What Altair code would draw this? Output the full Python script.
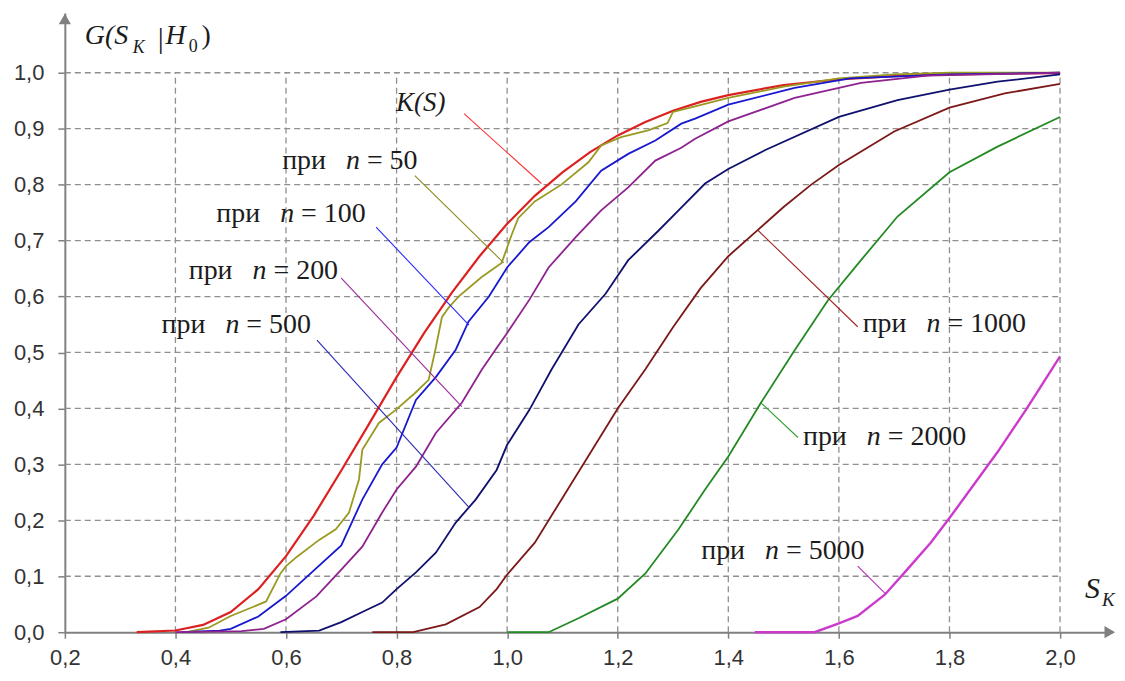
import altair as alt
import pandas as pd

# ---------------- data ----------------
ks_x = [0.33, 0.40, 0.45, 0.50, 0.55, 0.60, 0.65, 0.70, 0.75, 0.80, 0.85, 0.90, 0.95, 1.00,
        1.05, 1.10, 1.15, 1.20, 1.25, 1.30, 1.35, 1.40, 1.50, 1.60, 1.70, 1.80, 1.90, 2.00]
ks_y = [0.0, 0.003, 0.013, 0.036, 0.077, 0.136, 0.208, 0.289, 0.372, 0.456, 0.535, 0.607, 0.672, 0.730,
        0.780, 0.822, 0.858, 0.888, 0.912, 0.932, 0.948, 0.960, 0.978, 0.988, 0.994, 0.997, 0.9985, 0.9993]

n50_x = [0.42, 0.46, 0.50, 0.54, 0.564, 0.59, 0.60, 0.62, 0.66, 0.69, 0.714, 0.732, 0.738, 0.768,
         0.798, 0.834, 0.858, 0.870, 0.882, 0.894, 0.912, 0.954, 0.99, 1.008, 1.02, 1.05, 1.098,
         1.147, 1.17, 1.206, 1.255, 1.29, 1.30, 1.34, 1.40, 1.50, 1.60, 1.70, 1.80, 2.00]
n50_y = [0.0, 0.008, 0.029, 0.045, 0.055, 0.105, 0.118, 0.135, 0.165, 0.184, 0.214, 0.273, 0.326, 0.374,
         0.397, 0.428, 0.451, 0.504, 0.563, 0.58, 0.60, 0.635, 0.66, 0.71, 0.74, 0.77, 0.80,
         0.84, 0.87, 0.885, 0.897, 0.91, 0.93, 0.94, 0.955, 0.975, 0.99, 0.997, 1.0, 1.0]

n100_x = [0.41, 0.48, 0.50, 0.55, 0.60, 0.65, 0.70, 0.738, 0.774, 0.80, 0.835, 0.871, 0.907, 0.93,
          0.967, 1.00, 1.04, 1.075, 1.124, 1.17, 1.219, 1.268, 1.315, 1.34, 1.40, 1.52, 1.62, 1.80, 2.00]
n100_y = [0.0, 0.003, 0.006, 0.028, 0.065, 0.11, 0.155, 0.237, 0.30, 0.33, 0.415, 0.456, 0.505, 0.555,
          0.60, 0.652, 0.697, 0.724, 0.77, 0.825, 0.855, 0.879, 0.909, 0.918, 0.943, 0.973, 0.99, 0.997, 1.0]

n200_x = [0.40, 0.52, 0.56, 0.60, 0.655, 0.70, 0.738, 0.774, 0.80, 0.835, 0.871, 0.918, 0.954, 0.981,
          1.00, 1.04, 1.075, 1.124, 1.17, 1.219, 1.268, 1.315, 1.34, 1.40, 1.52, 1.64, 1.76, 2.00]
n200_y = [0.0, 0.002, 0.006, 0.023, 0.064, 0.112, 0.153, 0.214, 0.255, 0.296, 0.356, 0.41, 0.469, 0.508,
          0.535, 0.594, 0.652, 0.706, 0.754, 0.795, 0.843, 0.866, 0.882, 0.913, 0.955, 0.982, 0.995, 1.0]

n500_x = [0.59, 0.66, 0.70, 0.738, 0.774, 0.80, 0.835, 0.871, 0.907, 0.943, 0.981, 1.00, 1.04, 1.08,
          1.129, 1.178, 1.219, 1.274, 1.31, 1.358, 1.40, 1.467, 1.60, 1.706, 1.80, 1.887, 2.00]
n500_y = [0.0, 0.003, 0.018, 0.036, 0.053, 0.077, 0.107, 0.142, 0.196, 0.237, 0.29, 0.335, 0.397, 0.469,
          0.55, 0.605, 0.665, 0.718, 0.754, 0.802, 0.828, 0.862, 0.921, 0.951, 0.97, 0.984, 0.997]

n1000_x = [0.756, 0.83, 0.889, 0.95, 0.981, 1.00, 1.05, 1.10, 1.15, 1.20, 1.25, 1.30, 1.35, 1.40,
           1.45, 1.50, 1.55, 1.60, 1.65, 1.70, 1.80, 1.90, 2.00]
n1000_y = [0.0, 0.0, 0.014, 0.045, 0.077, 0.103, 0.16, 0.24, 0.32, 0.40, 0.47, 0.545, 0.615, 0.672,
           0.716, 0.76, 0.80, 0.835, 0.865, 0.895, 0.9375, 0.963, 0.98]

n2000_x = [1.00, 1.075, 1.129, 1.20, 1.25, 1.31, 1.358, 1.40, 1.459, 1.52, 1.58, 1.64, 1.706, 1.80,
           1.887, 2.00]
n2000_y = [0.0, 0.0, 0.025, 0.06, 0.105, 0.184, 0.255, 0.314, 0.41, 0.504, 0.593, 0.665, 0.743, 0.822,
           0.868, 0.921]

n5000_x = [1.448, 1.556, 1.60, 1.634, 1.683, 1.719, 1.766, 1.80, 1.887, 1.94, 2.00]
n5000_y = [0.0, 0.0, 0.016, 0.029, 0.067, 0.107, 0.16, 0.204, 0.322, 0.40, 0.493]

x_ticks = [0.2, 0.4, 0.6, 0.8, 1.0, 1.2, 1.4, 1.6, 1.8, 2.0]
y_ticks = [0.0, 0.1, 0.2, 0.3, 0.4, 0.5, 0.6, 0.7, 0.8, 0.9, 1.0]

n_labels = ["50", "100", "200", "500", "1000", "2000", "5000"]

# ---------------- styling / layout ----------------
X_DOM = [0.2, 2.094]
Y_DOM = [0.0, 1.107]
xs = alt.Scale(domain=X_DOM, nice=False, zero=False)
ys = alt.Scale(domain=Y_DOM, nice=False, zero=False)
SERIF = "Liberation Serif"
TXT = "#1c1c1c"
AX = "#808080"
GRID = "#8f8f8f"
LABEL_EXPR = "replace(format(datum.value, '.1f'), '.', ',')"

xaxis = alt.Axis(values=x_ticks, grid=False, title=None, domainColor=AX, domainWidth=2,
                 tickColor=AX, tickWidth=1.5, tickSize=6, labelPadding=9,
                 labelFont="Liberation Sans", labelFontSize=22, labelColor="#333333",
                 labelFlush=False, labelOverlap=False, labelExpr=LABEL_EXPR)
yaxis = alt.Axis(values=y_ticks, grid=False, title=None, domainColor=AX, domainWidth=2,
                 tickColor=AX, tickWidth=1.5, tickSize=7, labelPadding=14,
                 labelFont="Liberation Sans", labelFontSize=22, labelColor="#333333",
                 labelFlush=False, labelOverlap=False, labelExpr=LABEL_EXPR)


def X(field="x"):
    return alt.X(f"{field}:Q", scale=xs, axis=xaxis)


def Y(field="y"):
    return alt.Y(f"{field}:Q", scale=ys, axis=yaxis)


curves = [
    ("K", ks_x, ks_y, "#dd2020", 2.2),
    ("50", n50_x, n50_y, "#9a9a22", 1.8),
    ("100", n100_x, n100_y, "#1818d0", 1.8),
    ("200", n200_x, n200_y, "#8e228e", 1.8),
    ("500", n500_x, n500_y, "#10106e", 1.8),
    ("1000", n1000_x, n1000_y, "#7c1818", 1.8),
    ("2000", n2000_x, n2000_y, "#238a23", 1.8),
    ("5000", n5000_x, n5000_y, "#cc3acc", 2.4),
]

# grid (only inside [0.2,2.0] x [0,1.0])
grid_rows = [{"x": t, "y": 0.0, "x2": t, "y2": 1.0} for t in x_ticks[1:]] + \
            [{"x": 0.2, "y": t, "x2": 2.0, "y2": t} for t in y_ticks[1:]]
grid_df = pd.DataFrame(grid_rows)

layers = [alt.Chart(grid_df).mark_rule(color=GRID, strokeDash=[6, 4], strokeWidth=1.3).encode(
    x=X(), y=Y(), x2="x2:Q", y2="y2:Q")]

for name, cx, cy, col, w in curves:
    df = pd.DataFrame({"x": cx, "y": cy, "o": list(range(len(cx)))})
    layers.append(alt.Chart(df).mark_line(color=col, strokeWidth=w).encode(
        x=X(), y=Y(), order="o:Q"))

# leader lines
lead_df = pd.DataFrame({
    "x": [0.922, 0.833, 0.763, 0.700, 0.656, 1.454, 1.459, 1.634],
    "y": [0.927, 0.816, 0.724, 0.633, 0.522, 0.718, 0.410, 0.118],
    "x2": [1.062, 0.994, 0.931, 0.918, 0.931, 1.634, 1.526, 1.685],
    "y2": [0.802, 0.660, 0.549, 0.403, 0.223, 0.546, 0.348, 0.068],
    "c": ["#ff3030", "#8b8b22", "#2a2aff", "#9a2a9a", "#2a2ab4", "#a02424", "#2ea02e", "#b830b8"],
})
layers.append(alt.Chart(lead_df).mark_rule(strokeWidth=1.1).encode(
    x=X(), y=Y(), x2="x2:Q", y2="y2:Q", color=alt.Color("c:N", scale=None)))

# "при n = ..." labels
lab_df = pd.DataFrame({
    "x": [0.593, 0.474, 0.424, 0.375, 1.643, 1.535, 1.351],
    "y": [0.843, 0.747, 0.645, 0.549, 0.551, 0.348, 0.146],
    "num": n_labels,
})
lab_df["w"] = "при"
lab_df["n"] = "n"
lab_df["eq"] = "= " + lab_df["num"]
for field, dx, style in [("w", 0, "normal"), ("n", 64, "italic"), ("eq", 85, "normal")]:
    layers.append(alt.Chart(lab_df).mark_text(
        font=SERIF, fontSize=28, fontStyle=style, color=TXT, align="left", baseline="middle", dx=dx
    ).encode(x=X(), y=Y(), text=f"{field}:N"))

# math texts: K(S), axis titles
math_df = pd.DataFrame({
    "x": [0.799, 0.236, 0.323, 0.368, 0.382, 0.424, 0.447, 2.045, 2.076],
    "y": [0.945, 1.066, 1.045, 1.061, 1.066, 1.046, 1.066, 0.077, 0.057],
    "t": ["K(S)", "G(S", "K", "|", "H", "0", ")", "S", "K"],
    "style": ["italic", "italic", "italic", "normal", "italic", "normal", "normal", "italic", "italic"],
    "size": [27, 28, 18, 30, 28, 18, 28, 30, 19],
})
for style in ["italic", "normal"]:
    for size in sorted(set(math_df["size"])):
        sub = math_df[(math_df["style"] == style) & (math_df["size"] == size)]
        if len(sub) == 0:
            continue
        layers.append(alt.Chart(sub).mark_text(
            font=SERIF, fontSize=int(size), fontStyle=style, color=TXT, align="left", baseline="middle"
        ).encode(x=X(), y=Y(), text="t:N"))

# axis arrows
arrow_df = pd.DataFrame({"x": [0.2, 2.090], "y": [1.096, 0.0], "shape": ["triangle-up", "triangle-right"]})
layers.append(alt.Chart(arrow_df).mark_point(filled=True, color=AX, opacity=1, size=150).encode(
    x=X(), y=Y(), shape=alt.Shape("shape:N", scale=None)))

chart = alt.layer(*layers).properties(
    width=1050, height=621,
    autosize=alt.AutoSizeParams(type="none"),
    padding={"left": 57, "top": 4, "right": 5, "bottom": 36},
).configure_view(stroke=None)

chart.save("out.html", embed_options={"renderer": "svg", "actions": False})
